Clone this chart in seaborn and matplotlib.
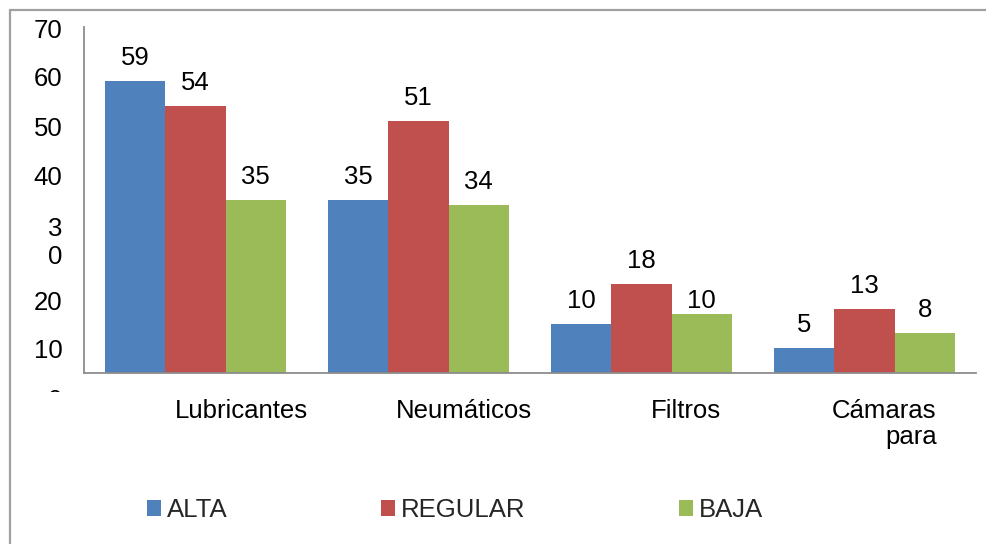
import matplotlib
matplotlib.use("Agg")
import matplotlib.pyplot as plt
import matplotlib.transforms as mtransforms
from matplotlib.lines import Line2D
import numpy as np
import pandas as pd
import seaborn as sns

# ---- data ----
categorias = ["Lubricantes", "Neumáticos", "Filtros", "Cámaras\npara"]
niveles = ["ALTA", "REGULAR", "BAJA"]
alta = [59, 35, 10, 5]
regular = [54, 51, 18, 13]
baja = [35, 34, 12, 8]          # bar heights as drawn
alta_lbl = [59, 35, 10, 5]
regular_lbl = [54, 51, 18, 13]
baja_lbl = [35, 34, 10, 8]      # printed labels
y_ticks = [0, 10, 20, 30, 40, 50, 60, 70]
y_ticklabels = ["0", "10", "20", "3\n0", "40", "50", "60", "70"]
colores = ["#4F81BD", "#C0504D", "#9BBB59"]

sns.set_theme(style="white")
plt.rcParams["font.family"] = ["Liberation Sans", "DejaVu Sans"]
FS = 18.5

cat_keys = [c.replace("\n", " ") for c in categorias]
df = pd.DataFrame({
    "cat": cat_keys * 3,
    "nivel": [n for n in niveles for _ in cat_keys],
    "valor": alta + regular + baja,
})

fig = plt.figure(figsize=(9.87, 5.44), dpi=100)
ax = fig.add_axes([84 / 987, 1 - 373 / 544, (976 - 84) / 987, (373 - 27) / 544])

sns.barplot(data=df, x="cat", y="valor", hue="nivel", hue_order=niveles,
            order=cat_keys, palette=colores, saturation=1, width=0.81,
            ax=ax, linewidth=0, edgecolor="none")

ax.set_xlim(-0.5, 3.5)
ax.set_ylim(0, 70)
ax.set_xlabel("")
ax.set_ylabel("")

# bar value labels
all_lbls = [alta_lbl, regular_lbl, baja_lbl]
for cont, lbls in zip(ax.containers, all_lbls):
    for rect, v in zip(cont.patches, lbls):
        cx = rect.get_x() + rect.get_width() / 2
        ax.annotate(str(v), xy=(cx, v), xytext=(0, 23), textcoords="offset pixels",
                    ha="center", va="center", fontsize=FS, color="black")

# spines
for s in ["top", "right"]:
    ax.spines[s].set_visible(False)
for s in ["left", "bottom"]:
    ax.spines[s].set_color("#8c8c8c")
    ax.spines[s].set_linewidth(1.3)

# y ticks
ax.set_yticks(y_ticks)
ax.set_yticklabels(y_ticklabels, fontsize=FS, color="black", multialignment="right")
ax.tick_params(axis="y", length=0, pad=15.5)
offsets = {0: 26, 10: 25, 20: 26, 30: 14, 40: 0, 50: 1, 60: 0, 70: 1}
for tick, val in zip(ax.yaxis.get_major_ticks(), y_ticks):
    lab = tick.label1
    lab.set_transform(lab.get_transform() +
                      mtransforms.ScaledTranslation(0, -offsets[val] / 100, fig.dpi_scale_trans))
    if val == 0:
        clip = mtransforms.TransformedBbox(
            mtransforms.Bbox([[0, 544 - 392], [987, 544]]), mtransforms.IdentityTransform())
        lab.set_clip_on(True)
        lab.set_clip_box(clip)

# x category labels
ax.set_xticks(range(len(categorias)))
ax.set_xticklabels([])
ax.tick_params(axis="x", length=0)
trans = mtransforms.blended_transform_factory(ax.transData, ax.transAxes)
off = mtransforms.ScaledTranslation(0, -26 / 100, fig.dpi_scale_trans)
dx = [0.204, 0.204, 0.198, 0.323]
for i, (c, d) in enumerate(zip(categorias, dx)):
    ha = "right" if "\n" in c else "center"
    ax.text(i + d, 0, c, transform=trans + off, ha=ha, va="top",
            multialignment="right", fontsize=FS, color="black", linespacing=1.12)

# legend
handles, labels = ax.get_legend_handles_labels()
if ax.get_legend() is not None:
    ax.get_legend().remove()
fig.legend(handles, labels, loc="center", bbox_to_anchor=(455 / 987, 1 - 510 / 544),
           ncol=3, frameon=False, fontsize=FS, handlelength=0.55, handleheight=0.55,
           handletextpad=0.25, columnspacing=5.95, borderaxespad=0)

# outer frame (left and top edges)
fig.add_artist(Line2D([10 / 987, 10 / 987], [0, 1 - 10 / 544], transform=fig.transFigure,
                      color="#a0a0a0", linewidth=1.6))
fig.add_artist(Line2D([10 / 987, 1], [1 - 10 / 544, 1 - 10 / 544], transform=fig.transFigure,
                      color="#a0a0a0", linewidth=1.6))

fig.savefig("out.png", dpi=100)
